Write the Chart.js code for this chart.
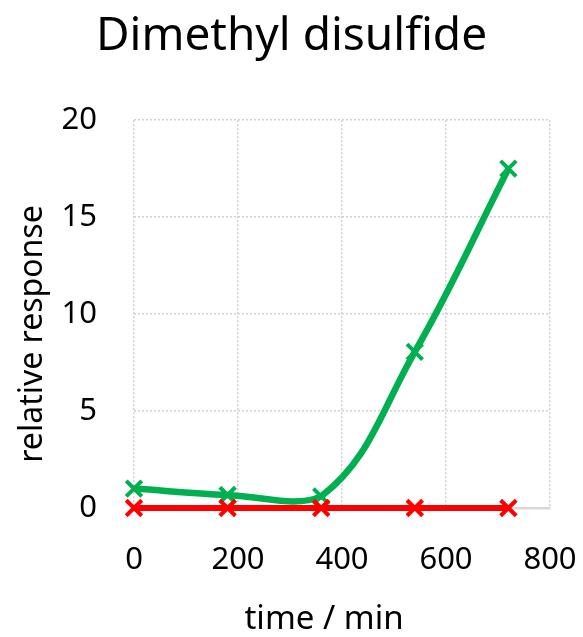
<!DOCTYPE html>
<html>
<head>
<meta charset="utf-8">
<script src="https://cdn.jsdelivr.net/npm/chart.js@4/dist/chart.umd.min.js"></script>
<style>
  html, body { margin: 0; padding: 0; background: #fff; }
  #wrap { width: 583px; height: 637px; }
</style>
</head>
<body>
<div id="wrap"><canvas id="chart"></canvas></div>
<script>
const timeMin = [0, 180, 360, 540, 720];
const greenSeries = [1.0, 0.67, 0.6, 8.05, 17.5];
const redSeries = [0, 0, 0, 0, 0];
const xTicks = [0, 200, 400, 600, 800];
const yTicks = [0, 5, 10, 15, 20];
const xTitle = "time / min";
const yTitle = "relative response";

function toPoints(xs, ys) {
  return xs.map((x, i) => ({ x: x, y: ys[i] }));
}

const FONT = "'Noto Sans', sans-serif";
const gridGrey = "#d0d0d0";

// axis titles drawn by hand, Excel does not centre them on the plot area
const axisTitlePlugin = {
  id: "axis_titles",
  afterDraw: (chart) => {
    const c = chart.ctx;
    c.save();
    c.fillStyle = "#000";
    c.textAlign = "center";
    c.textBaseline = "alphabetic";
    c.font = "33px " + FONT;
    c.fillText(xTitle, 324, 629);
    c.translate(42, 334);
    c.rotate(-Math.PI / 2);
    c.font = "32px " + FONT;
    c.fillText(yTitle, 0, 0);
    c.restore();
  },
};

var ctx = document.getElementById("chart").getContext("2d");

var chart = new Chart(ctx, {
  type: "line",
  data: {
    datasets: [
      {
        label: "red",
        data: toPoints(timeMin, redSeries),
        borderColor: "#ff0000",
        backgroundColor: "#ff0000",
        borderWidth: 6,
        pointStyle: "crossRot",
        pointRadius: 11,
        pointBorderWidth: 4,
        tension: 0.4,
        clip: false,
      },
      {
        label: "green",
        data: toPoints(timeMin, greenSeries),
        borderColor: "#00b050",
        backgroundColor: "#00b050",
        borderWidth: 6.5,
        pointStyle: "crossRot",
        pointRadius: 11,
        pointBorderWidth: 4,
        tension: 0.4,
        clip: false,
      },
    ],
  },
  options: {
    responsive: true,
    maintainAspectRatio: false,
    animation: false,
    layout: {
      padding: { left: 10, right: 10, top: 0, bottom: 0 },
    },
    plugins: {
      legend: { display: false },
      tooltip: { enabled: false },
      title: {
        display: true,
        text: "Dimethyl disulfide",
        color: "#000",
        font: { family: FONT, size: 46, weight: "normal", lineHeight: 1.2 },
        padding: { top: 9, bottom: 56 },
      },
    },
    scales: {
      x: {
        type: "linear",
        min: 0,
        max: 800,
        afterBuildTicks: (scale) => {
          scale.ticks = xTicks.map((v) => ({ value: v }));
        },
        afterFit: (scale) => {
          scale.height = 129;
          // tick padding would otherwise push the plot in from the right
          scale.paddingRight = 33;
          scale.paddingLeft = 0;
        },
        grid: {
          color: gridGrey,
          lineWidth: 1.5,
          drawTicks: false,
        },
        border: {
          display: true,
          color: "#d9d9d9",
          width: 2.5,
          dash: [2, 2],
        },
        ticks: {
          color: "#000",
          padding: 34,
          font: { family: FONT, size: 31 },
        },
        title: { display: false },
      },
      y: {
        type: "linear",
        min: 0,
        max: 20,
        afterBuildTicks: (scale) => {
          scale.ticks = yTicks.map((v) => ({ value: v }));
        },
        afterFit: (scale) => {
          scale.width = 124;
        },
        grid: {
          color: gridGrey,
          lineWidth: 1.5,
          drawTicks: false,
        },
        border: {
          display: false,
          dash: [2, 2],
        },
        ticks: {
          color: "#000",
          padding: 37,
          font: { family: FONT, size: 31 },
        },
        title: { display: false },
      },
    },
  },
  plugins: [axisTitlePlugin],
});
</script>
</body>
</html>
